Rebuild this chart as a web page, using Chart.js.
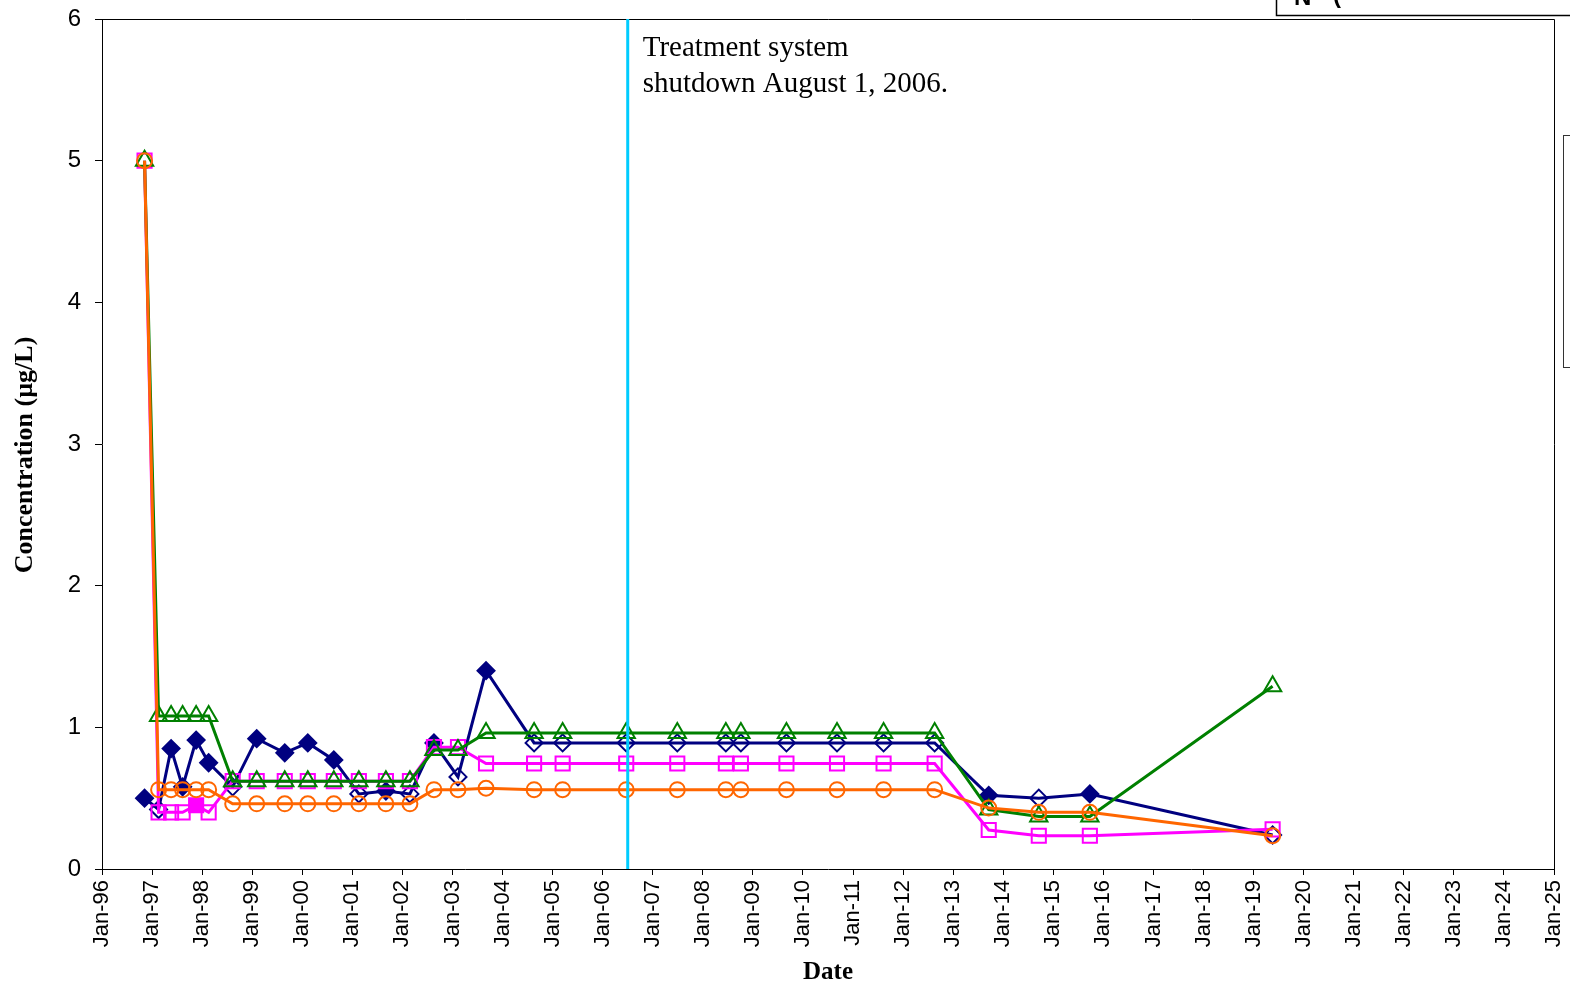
<!DOCTYPE html>
<html>
<head>
<meta charset="utf-8">
<title>Concentration vs Date</title>
<script src="https://cdn.jsdelivr.net/npm/chart.js@4.4.1/dist/chart.umd.min.js"></script>
<style>
  html, body { margin: 0; padding: 0; background: #fff; }
  #wrap { width: 1570px; height: 986px; position: relative; }
</style>
</head>
<body>
<div id="wrap"><canvas id="chart" width="1570" height="986"></canvas></div>
<script>
// sampling dates, as decimal years
const sampleDates = [1996.85, 1997.13, 1997.38, 1997.61, 1997.88, 1998.13, 1998.61, 1999.09,
  1999.65, 2000.11, 2000.63, 2001.13, 2001.67, 2002.15, 2002.63, 2003.11,
  2003.67, 2004.63, 2005.20, 2006.47, 2007.49, 2008.46, 2008.76, 2009.67,
  2010.68, 2011.61, 2012.63, 2013.71, 2014.71, 2015.73, 2019.38];

// concentrations (ug/L)
const navyValues = [0.50, 0.42, 0.85, 0.58, 0.91, 0.75, 0.58, 0.92, 0.82, 0.89, 0.77, 0.53, 0.55, 0.53, 0.89, 0.65,
  1.40, 0.89, 0.89, 0.89, 0.89, 0.89, 0.89, 0.89, 0.89, 0.89, 0.89, 0.52, 0.50, 0.53, 0.24];
const greenValues = [5.0, 1.08, 1.08, 1.08, 1.08, 1.08, 0.62, 0.62, 0.62, 0.62, 0.62, 0.62, 0.62, 0.62, 0.84, 0.84,
  0.96, 0.96, 0.96, 0.96, 0.96, 0.96, 0.96, 0.96, 0.96, 0.96, 0.96, 0.42, 0.37, 0.37, 1.29];
const magentaValues = [5.0, 0.40, 0.40, 0.40, 0.45, 0.40, 0.62, 0.62, 0.62, 0.62, 0.62, 0.62, 0.62, 0.62, 0.86, 0.86,
  0.745, 0.745, 0.745, 0.745, 0.745, 0.745, 0.745, 0.745, 0.745, 0.745, 0.745, 0.275, 0.235, 0.235, 0.28];
const orangeValues = [5.0, 0.56, 0.56, 0.56, 0.56, 0.56, 0.46, 0.46, 0.46, 0.46, 0.46, 0.46, 0.46, 0.46, 0.56, 0.56,
  0.57, 0.56, 0.56, 0.56, 0.56, 0.56, 0.56, 0.56, 0.56, 0.56, 0.56, 0.43, 0.40, 0.40, 0.235];

// 1 = detected (filled marker), 0 = not detected (open marker)
const navyDetected = [1, 0, 1, 1, 1, 1, 0, 1, 1, 1, 1, 0, 1, 0, 1, 0,
  1, 0, 0, 0, 0, 0, 0, 0, 0, 0, 0, 1, 0, 1, 0];
const magentaDetected = [0, 0, 0, 0, 1, 0, 0, 0, 0, 0, 0, 0, 0, 0, 0, 0,
  0, 0, 0, 0, 0, 0, 0, 0, 0, 0, 0, 0, 0, 0, 0];

const xRange = [1996, 2025];
const yRange = [0, 6];
const yTitle = 'Concentration (µg/L)';
const shutdownDate = 2006.5;
const shutdownNote = ['Treatment system', 'shutdown August 1, 2006.'];

const NAVY = '#000080', GREEN = '#008000', MAGENTA = '#FF00FF', ORANGE = '#FF6600';

const pts = (vals) => vals.map((v, i) => ({ x: sampleDates[i], y: v }));
const fills = (flags, color) => flags.map(f => f ? color : 'rgba(0,0,0,0)');

const overlay = {
  id: 'overlay',
  afterDatasetsDraw(chart) {
    const { ctx, chartArea: a, scales: { x } } = chart;
    ctx.save();
    // rest of the plot frame
    ctx.strokeStyle = '#000';
    ctx.lineWidth = 1;
    ctx.beginPath();
    ctx.moveTo(a.left, a.top + 0.5);
    ctx.lineTo(a.right + 0.5, a.top + 0.5);
    ctx.lineTo(a.right + 0.5, a.bottom);
    ctx.stroke();

    // shutdown marker
    const sx = x.getPixelForValue(shutdownDate);
    ctx.strokeStyle = '#00CCFF';
    ctx.lineWidth = 3;
    ctx.beginPath();
    ctx.moveTo(sx, a.top);
    ctx.lineTo(sx, a.bottom);
    ctx.stroke();

    ctx.fillStyle = '#000';
    ctx.font = '29px "Liberation Serif"';
    ctx.textBaseline = 'alphabetic';
    shutdownNote.forEach((t, i) => ctx.fillText(t, sx + 15, a.top + 37 + i * 36));
    ctx.restore();
  },
  afterDraw(chart) {
    const { ctx } = chart;
    ctx.save();
    // y axis title, sitting a little below the middle like the original
    ctx.translate(25, 455);
    ctx.rotate(-Math.PI / 2);
    ctx.fillStyle = '#000';
    ctx.font = 'bold 26px "Liberation Serif"';
    ctx.textAlign = 'center';
    ctx.textBaseline = 'middle';
    ctx.fillText(yTitle, 0, 0);
    ctx.restore();

    // bits of neighbouring boxes cut off by the page edge
    ctx.save();
    ctx.strokeStyle = '#000';
    ctx.lineWidth = 1.5;
    ctx.strokeRect(1276.5, -10, 320, 25.5);
    ctx.fillStyle = '#000';
    ctx.font = 'bold 24px "Liberation Sans"';
    ctx.fillText('N', 1294, 5);
    ctx.fillText('(', 1333, 3);
    ctx.lineWidth = 1;
    ctx.strokeStyle = '#333';
    ctx.strokeRect(1563.5, 135.5, 30, 232);
    ctx.restore();
  }
};

const series = (label, vals, color, style, radius, bg) => ({
  label,
  data: pts(vals),
  borderColor: color,
  borderWidth: 3,
  pointStyle: style,
  pointRadius: radius,
  pointBorderWidth: 2,
  pointBorderColor: color,
  pointBackgroundColor: bg,
  tension: 0
});

new Chart(document.getElementById('chart'), {
  type: 'line',
  data: {
    datasets: [
      series('Orange', orangeValues, ORANGE, 'circle', 7.5, 'rgba(0,0,0,0)'),
      series('Green', greenValues, GREEN, 'triangle', 10, 'rgba(0,0,0,0)'),
      series('Magenta', magentaValues, MAGENTA, 'rect', 10, fills(magentaDetected, MAGENTA)),
      series('Navy', navyValues, NAVY, 'rectRot', 8.5, fills(navyDetected, NAVY))
    ]
  },
  options: {
    responsive: false,
    animation: false,
    devicePixelRatio: 1,
    layout: { padding: { left: 0, top: 19, right: 16, bottom: 0 } },
    plugins: {
      legend: { display: false },
      tooltip: { enabled: false }
    },
    scales: {
      x: {
        type: 'linear',
        min: xRange[0],
        max: xRange[1],
        afterFit: (s) => { s.height = 117; s.paddingLeft = 0; s.paddingRight = 0; },
        grid: { drawOnChartArea: false, color: '#000', tickLength: 6, tickWidth: 1 },
        border: { color: '#000', width: 1 },
        ticks: {
          stepSize: 1,
          autoSkip: false,
          minRotation: 90,
          maxRotation: 90,
          padding: 5,
          color: '#000',
          font: { family: '"Liberation Sans"', size: 22 },
          callback: (v) => 'Jan-' + String(v % 100).padStart(2, '0')
        },
        title: {
          display: true,
          text: 'Date',
          color: '#000',
          font: { family: '"Liberation Serif"', size: 25, weight: 'bold', lineHeight: 1 },
          padding: { top: 0, bottom: 1 }
        }
      },
      y: {
        min: yRange[0],
        max: yRange[1],
        afterFit: (s) => { s.width = 102; s.paddingTop = 0; s.paddingBottom = 0; },
        grid: { drawOnChartArea: false, color: '#000', tickLength: 7, tickWidth: 1 },
        border: { color: '#000', width: 1 },
        ticks: {
          stepSize: 1,
          padding: 14,
          color: '#000',
          font: { family: '"Liberation Sans"', size: 24 }
        }
      }
    }
  },
  plugins: [overlay]
});
</script>
</body>
</html>
